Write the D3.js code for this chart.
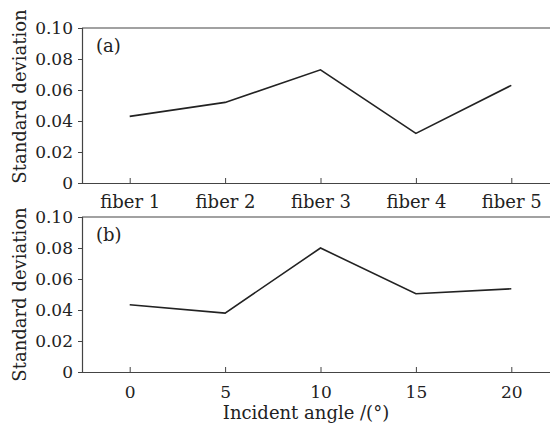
<!DOCTYPE html>
<html>
<head>
<meta charset="utf-8">
<script src="https://cdn.jsdelivr.net/npm/d3@7"></script>
<style>
  body { margin: 0; background: #fff; }
  svg { font-family: "DejaVu Serif", serif; }
</style>
</head>
<body>
<div id="chart"></div>
<script>
// panel (a): fibers
const fibers = ["fiber 1", "fiber 2", "fiber 3", "fiber 4", "fiber 5"];
const fiberStd = [0.043, 0.052, 0.073, 0.032, 0.063];

// panel (b): incident angles
const angles = [0, 5, 10, 15, 20];
const angleStd = [0.0434, 0.038, 0.080, 0.0505, 0.0537];

const yTicks = [0, 0.02, 0.04, 0.06, 0.08, 0.10];

const width = 550, height = 424;
const left = 82, right = 559;
const numSize = 17;   // digits
const txtSize = 18;   // words
const font = "DejaVu Serif";

const svg = d3.select("#chart")
    .append("svg")
    .attr("width", width)
    .attr("height", height);

function panel(top, bottom, labels, values, tag, xFmt, xSize, xPad, labelShift) {
    const x = d3.scaleLinear()
        .domain([-0.5, labels.length - 0.5])
        .range([left, right]);
    const y = d3.scaleLinear()
        .domain([0, 0.1])
        .range([bottom, top]);

    const g = svg.append("g");

    // frame: top line
    g.append("line")
        .attr("x1", left).attr("x2", right)
        .attr("y1", top).attr("y2", top)
        .attr("stroke", "#444").attr("stroke-width", 1.2);

    // y axis
    const ya = g.append("g")
        .attr("transform", `translate(${left},0)`)
        .call(d3.axisLeft(y).tickValues(yTicks).tickSize(4).tickPadding(5)
            .tickFormat(d => d === 0 ? "0" : d3.format(".2f")(d)));
    ya.select(".domain").attr("stroke", "#444").attr("stroke-width", 1.2);
    ya.selectAll(".tick line").attr("stroke", "#444");
    ya.selectAll("text").attr("font-size", numSize).attr("fill", "#222")
        .attr("font-family", font);

    // x axis, ticks pointing inside
    const xa = g.append("g")
        .attr("transform", `translate(0,${bottom})`)
        .call(d3.axisBottom(x).tickValues(d3.range(labels.length))
            .tickSize(-5).tickSizeOuter(0).tickPadding(xPad)
            .tickFormat(i => xFmt(labels[i])));
    xa.select(".domain").attr("stroke", "#444").attr("stroke-width", 1.2);
    xa.selectAll(".tick line").attr("stroke", "#444");
    xa.selectAll("text").attr("font-size", xSize).attr("fill", "#222")
        .attr("font-family", font);

    // line
    const line = d3.line()
        .x((d, i) => x(i))
        .y(d => y(d));
    g.append("path")
        .datum(values)
        .attr("fill", "none")
        .attr("stroke", "#222")
        .attr("stroke-width", 1.6)
        .attr("d", line);

    g.append("text")
        .attr("x", left + 14)
        .attr("y", top + 24)
        .attr("font-size", txtSize)
        .attr("fill", "#222")
        .text(tag);

    g.append("text")
        .attr("transform", `translate(26,${(top + bottom) / 2 + labelShift}) rotate(-90)`)
        .attr("text-anchor", "middle")
        .attr("font-size", txtSize)
        .attr("fill", "#222")
        .text("Standard deviation");
}

panel(28, 183, fibers, fiberStd, "(a)", d => d, txtSize, 12, -9);
panel(217, 372, angles, angleStd, "(b)", d => String(d), numSize, 14, 0);

svg.append("text")
    .attr("x", 306)
    .attr("y", 419)
    .attr("text-anchor", "middle")
    .attr("font-size", txtSize)
    .attr("fill", "#222")
    .text("Incident angle /(°)");
</script>
</body>
</html>
